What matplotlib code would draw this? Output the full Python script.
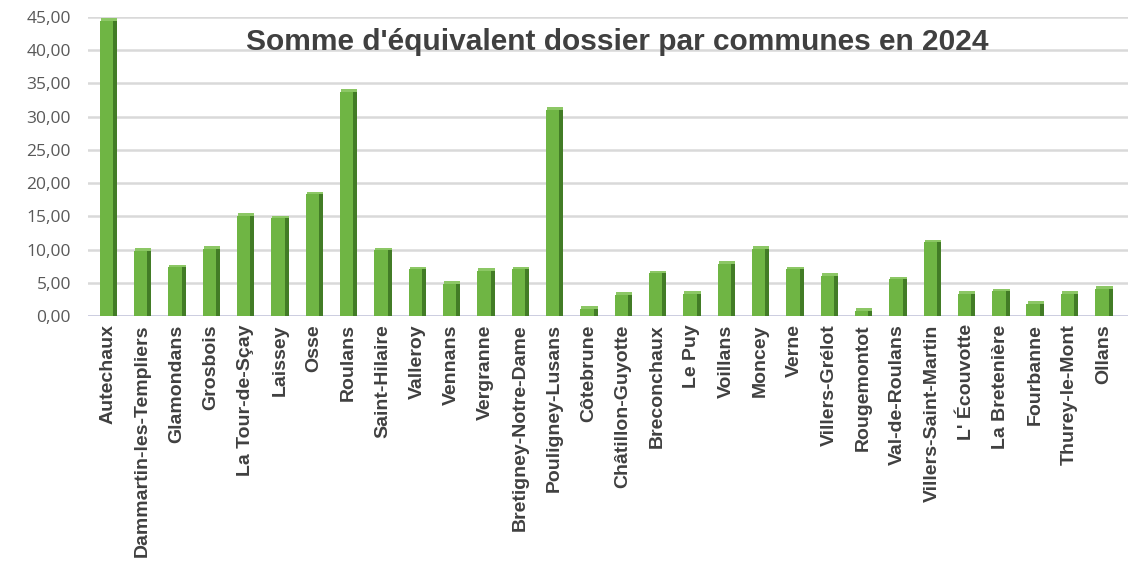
import numpy as np
import matplotlib.pyplot as plt

# communes et valeurs
communes = ["Autechaux", "Dammartin-les-Templiers", "Glamondans", "Grosbois",
            "La Tour-de-Sçay", "Laissey", "Osse", "Roulans", "Saint-Hilaire",
            "Valleroy", "Vennans", "Vergranne", "Bretigney-Notre-Dame",
            "Pouligney-Lusans", "Côtebrune", "Châtillon-Guyotte", "Breconchaux",
            "Le Puy", "Voillans", "Moncey", "Verne", "Villers-Grélot",
            "Rougemontot", "Val-de-Roulans", "Villers-Saint-Martin",
            "L' Écouvotte", "La Bretenière", "Fourbanne", "Thurey-le-Mont", "Ollans"]
valeurs = [44.4, 9.8, 7.3, 10.1, 15.1, 14.7, 18.3, 33.7, 9.9,
           7.0, 4.8, 6.8, 7.0, 31.0, 1.1, 3.2, 6.4,
           3.3, 7.9, 10.1, 7.0, 6.0, 0.8, 5.5, 11.1,
           3.3, 3.7, 1.8, 3.3, 4.1]
yticks = np.arange(0, 46, 5)

plt.rcParams['font.family'] = ['Liberation Sans', 'DejaVu Sans']

fig = plt.figure(figsize=(11.38, 5.65), dpi=100)
ax = fig.add_axes([0.077, 0.4407, 0.914, 0.5293])

x = np.arange(len(communes))
# face avant + face latérale plus sombre + dessus (effet 3D)
ax.bar(x - 0.05, valeurs, width=0.40, color='#6fb544', zorder=3)
ax.bar(x + 0.20, valeurs, width=0.12, color='#427c26', zorder=3)
ax.bar(x + 0.02, 0.4, bottom=valeurs, width=0.48, color='#8cc765', zorder=3)

ax.set_ylim(0, 45)
ax.set_xlim(-0.6, len(communes) - 1 + 0.7)
ax.set_yticks(yticks)
ax.set_yticklabels([f"{v:.2f}".replace('.', ',') for v in yticks],
                   fontsize=12.5, color='#595959', family='Open Sans')
ax.set_xticks(x)
ax.set_xticklabels(communes, rotation=90, fontsize=14, fontweight='bold',
                   color='#404040')
ax.tick_params(axis='both', length=0)
ax.tick_params(axis='y', pad=12)
ax.tick_params(axis='x', pad=6)

ax.grid(axis='y', color='#d9d9d9', linewidth=1.8, zorder=0)
for s in ax.spines.values():
    s.set_visible(False)
ax.axhline(0, color='#c9cbe0', linewidth=1.2, zorder=2)

fig.text(0.542, 0.925, "Somme d'équivalent dossier par communes en 2024",
         ha='center', va='center', fontsize=21.5, fontweight='bold', color='#404040')

fig.savefig("out.png", dpi=100)
